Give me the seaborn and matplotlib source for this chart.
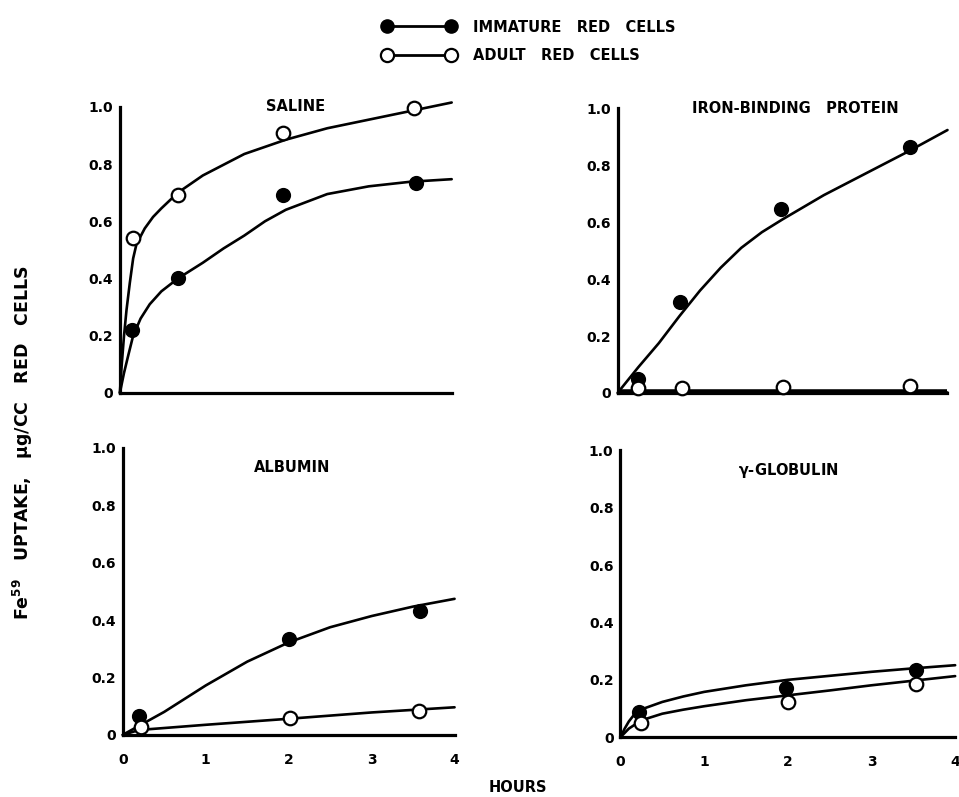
import matplotlib
matplotlib.use('Agg')
import matplotlib.pyplot as plt
from matplotlib.lines import Line2D
import pandas as pd
import seaborn as sns

# measured points (hours, uptake ug/cc red cells)
saline_imm_h = [0.15, 0.70, 1.97, 3.57]
saline_imm_v = [0.22, 0.40, 0.69, 0.735]
saline_adu_h = [0.16, 0.70, 1.97, 3.55]
saline_adu_v = [0.54, 0.69, 0.91, 0.995]

ibp_imm_h = [0.25, 0.76, 1.98, 3.54]
ibp_imm_v = [0.05, 0.32, 0.647, 0.864]
ibp_adu_h = [0.25, 0.78, 2.01, 3.54]
ibp_adu_v = [0.016, 0.016, 0.022, 0.025]

alb_imm_h = [0.20, 2.00, 3.58]
alb_imm_v = [0.064, 0.333, 0.43]
alb_adu_h = [0.22, 2.02, 3.57]
alb_adu_v = [0.027, 0.058, 0.084]

glob_imm_h = [0.22, 1.98, 3.53]
glob_imm_v = [0.088, 0.173, 0.236]
glob_adu_h = [0.24, 2.00, 3.53]
glob_adu_v = [0.05, 0.123, 0.187]

# fitted curves
saline_imm_ch = [0, 0.05, 0.1, 0.16, 0.25, 0.36, 0.5, 0.7, 1, 1.25, 1.5, 1.75, 2, 2.5, 3, 3.5, 4]
saline_imm_cv = [0, 0.07, 0.13, 0.2, 0.26, 0.31, 0.355, 0.40, 0.455, 0.505, 0.55, 0.60, 0.64, 0.695, 0.722, 0.738, 0.747]
saline_adu_ch = [0, 0.02, 0.05, 0.08, 0.12, 0.16, 0.2, 0.3, 0.4, 0.5, 0.7, 1, 1.5, 2, 2.5, 3, 3.5, 4]
saline_adu_cv = [0, 0.09, 0.2, 0.29, 0.385, 0.47, 0.52, 0.575, 0.615, 0.645, 0.70, 0.76, 0.835, 0.885, 0.925, 0.955, 0.985, 1.015]

ibp_imm_ch = [0, 0.25, 0.5, 0.75, 1, 1.25, 1.5, 1.75, 2, 2.5, 3, 3.5, 4]
ibp_imm_cv = [0, 0.09, 0.175, 0.27, 0.36, 0.44, 0.51, 0.565, 0.61, 0.695, 0.77, 0.845, 0.924]
ibp_adu_ch = [0, 1, 2, 3, 4]
ibp_adu_cv = [0.004, 0.004, 0.004, 0.004, 0.004]

alb_imm_ch = [0, 0.25, 0.5, 1, 1.5, 2, 2.5, 3, 3.5, 4]
alb_imm_cv = [0, 0.04, 0.08, 0.172, 0.255, 0.322, 0.375, 0.414, 0.447, 0.474]
alb_adu_ch = [0, 0.2, 1, 2, 3, 4]
alb_adu_cv = [0, 0.017, 0.035, 0.056, 0.078, 0.096]

glob_imm_ch = [0, 0.05, 0.1, 0.18, 0.25, 0.5, 0.75, 1, 1.5, 2, 2.5, 3, 3.5, 4]
glob_imm_cv = [0, 0.03, 0.055, 0.085, 0.097, 0.123, 0.142, 0.158, 0.181, 0.2, 0.214, 0.228, 0.24, 0.251]
glob_adu_ch = [0, 0.1, 0.25, 0.5, 0.75, 1, 1.5, 2, 2.5, 3, 3.5, 4]
glob_adu_cv = [0, 0.03, 0.059, 0.082, 0.096, 0.108, 0.129, 0.146, 0.163, 0.181, 0.197, 0.213]

titles = ['SALINE', 'IRON-BINDING   PROTEIN', 'ALBUMIN', r'$\mathbf{\gamma}$-GLOBULIN']
y_ticks = [0, 0.2, 0.4, 0.6, 0.8, 1.0]
y_ticklabels = ['0', '0.2', '0.4', '0.6', '0.8', '1.0']
x_ticks = [0, 1, 2, 3, 4]

panels = [
	(saline_imm_h, saline_imm_v, saline_adu_h, saline_adu_v, saline_imm_ch, saline_imm_cv, saline_adu_ch, saline_adu_cv),
	(ibp_imm_h, ibp_imm_v, ibp_adu_h, ibp_adu_v, ibp_imm_ch, ibp_imm_cv, ibp_adu_ch, ibp_adu_cv),
	(alb_imm_h, alb_imm_v, alb_adu_h, alb_adu_v, alb_imm_ch, alb_imm_cv, alb_adu_ch, alb_adu_cv),
	(glob_imm_h, glob_imm_v, glob_adu_h, glob_adu_v, glob_imm_ch, glob_imm_cv, glob_adu_ch, glob_adu_cv),
]

sns.set_style('white')
plt.rcParams['font.family'] = ['DejaVu Sans']
plt.rcParams['font.weight'] = 'bold'
plt.rcParams['text.color'] = 'black'
plt.rcParams['xtick.color'] = 'black'
plt.rcParams['ytick.color'] = 'black'
plt.rcParams['axes.edgecolor'] = 'black'
plt.rcParams['mathtext.default'] = 'bf'

fig = plt.figure(figsize=(9.59, 7.97), dpi=100)
rects = [
	[0.125, 0.507, 0.346, 0.359],
	[0.644, 0.507, 0.344, 0.357],
	[0.128, 0.078, 0.346, 0.360],
	[0.647, 0.075, 0.349, 0.360],
]
title_pos = [(0.53, 1.0), (0.54, 1.0), (0.51, 0.93), (0.50, 0.93)]

for i, rect in enumerate(rects):
	ax = fig.add_axes(rect)
	ih, iv, ah, av, ich, icv, ach, acv = panels[i]
	curves = pd.concat([
		pd.DataFrame({'h': ich, 'v': icv, 'cells': 'imm'}),
		pd.DataFrame({'h': ach, 'v': acv, 'cells': 'adu'}),
	])
	sns.lineplot(data=curves, x='h', y='v', units='cells', estimator=None, sort=False,
		color='black', linewidth=1.9, ax=ax, legend=False, clip_on=False)
	if i == 1:
		ax.plot(ach, acv, color='black', linewidth=4, solid_capstyle='butt', clip_on=False)
	sns.scatterplot(x=ih, y=iv, color='black', edgecolor='black', s=95, linewidth=1.2, ax=ax, zorder=5, clip_on=False)
	sns.scatterplot(x=ah, y=av, color='white', edgecolor='black', s=95, linewidth=1.6, ax=ax, zorder=5, clip_on=False)
	ax.set_xlim(0, 4)
	ax.set_ylim(0, 1.0)
	ax.set_yticks(y_ticks)
	ax.set_yticklabels(y_ticklabels)
	ax.set_xticks(x_ticks)
	if i < 2:
		ax.set_xticklabels([])
	ax.tick_params(axis='both', direction='out', length=3, width=2, labelsize=10, pad=2)
	ax.tick_params(axis='x', pad=10)
	for lab in ax.get_xticklabels() + ax.get_yticklabels():
		lab.set_fontweight('heavy')
	sns.despine(ax=ax)
	ax.spines['left'].set_linewidth(2.3)
	ax.spines['bottom'].set_linewidth(2.3)
	ax.set_xlabel('')
	ax.set_ylabel('')
	ax.set_facecolor('white')
	tx, ty = title_pos[i]
	ax.text(tx, ty, titles[i], transform=ax.transAxes, ha='center', va='center',
		fontsize=10.5, fontweight='heavy')

handles = [
	Line2D([], [], color='black', linewidth=2, marker='o', markersize=9.5,
		markerfacecolor='black', markeredgecolor='black'),
	Line2D([], [], color='black', linewidth=2, marker='o', markersize=9.5,
		markerfacecolor='white', markeredgecolor='black', markeredgewidth=1.6),
]
fig.legend(handles, ['IMMATURE   RED   CELLS', 'ADULT   RED   CELLS'], loc='upper left',
	bbox_to_anchor=(0.385, 0.992), frameon=False, numpoints=2, handlelength=5.0,
	handletextpad=1.2, labelspacing=0.95, prop={'size': 10.5, 'weight': 'heavy'})

fig.text(0.024, 0.444, r'Fe$^{59}$   UPTAKE,   $\mu$g/CC   RED   CELLS', rotation=90,
	ha='center', va='center', fontsize=12.5, fontweight='heavy')
fig.text(0.54, 0.012, 'HOURS', ha='center', va='center', fontsize=10.5, fontweight='heavy')

fig.savefig('out.png', dpi=100, facecolor='white')
